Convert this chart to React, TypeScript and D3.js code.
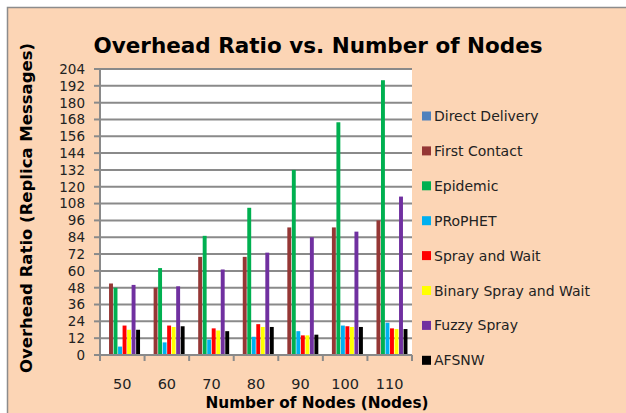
import React, { useEffect, useRef } from 'react';
import * as d3 from 'd3';

const nodes = ['50', '60', '70', '80', '90', '100', '110'];
const seriesNames = ['Direct Delivery', 'First Contact', 'Epidemic', 'PRoPHET', 'Spray and Wait', 'Binary Spray and Wait', 'Fuzzy Spray', 'AFSNW'];
const colors = ['#4F81BD', '#953735', '#00B050', '#00B0F0', '#FF0000', '#FFFF00', '#7030A0', '#000000'];

const directDelivery = [0, 0, 0, 0, 0, 0, 0];
const firstContact = [51, 48, 70, 70, 91, 91, 96];
const epidemic = [48, 62, 85, 105, 132, 166, 196];
const prophet = [6, 9, 11, 13, 17, 21, 23];
const sprayAndWait = [21, 21, 19, 22, 14, 20.5, 19];
const binarySprayAndWait = [18, 20, 17.5, 20, 14, 20, 18.5];
const fuzzySpray = [50, 49, 61, 73, 84, 88, 113];
const afsnw = [18, 20.5, 17, 20, 14.5, 20, 18.5];

const yTicks = d3.range(0, 205, 12);

const App = () => {
    const svgRef = useRef(null);

    useEffect(() => {
        const svg = d3.select(svgRef.current);
        svg.selectAll('*').remove();

        const width = 626;
        const height = 413;
        const font = '"DejaVu Sans", sans-serif';
        const plot = { left: 100, top: 69, right: 412, bottom: 355 };

        const allSeries = [directDelivery, firstContact, epidemic, prophet, sprayAndWait, binarySprayAndWait, fuzzySpray, afsnw];

        // Background + frame
        svg.append('rect').attr('width', width).attr('height', height).attr('fill', 'white');
        svg.append('rect')
            .attr('x', 7.5).attr('y', 7.5)
            .attr('width', width).attr('height', height)
            .attr('fill', '#FCD5B5')
            .attr('stroke', '#8c8c8c').attr('stroke-width', 1.5);

        // Scales
        const x0 = d3.scaleBand()
            .domain(nodes)
            .range([plot.left, plot.right])
            .paddingInner(0.19)
            .paddingOuter(0.095);
        const x1 = d3.scaleBand()
            .domain(seriesNames)
            .range([0, x0.bandwidth()]);
        const y = d3.scaleLinear().domain([0, 204]).range([plot.bottom, plot.top]);

        svg.append('rect')
            .attr('x', plot.left).attr('y', plot.top)
            .attr('width', plot.right - plot.left).attr('height', plot.bottom - plot.top)
            .attr('fill', 'white');

        // Gridlines
        svg.append('g').selectAll('line')
            .data(yTicks.filter(d => d > 0))
            .enter().append('line')
            .attr('x1', plot.left).attr('x2', plot.right)
            .attr('y1', d => y(d)).attr('y2', d => y(d))
            .attr('stroke', '#8a8a8a').attr('stroke-width', 2);

        // Bars
        const groups = svg.append('g').selectAll('g')
            .data(nodes)
            .enter().append('g')
            .attr('transform', d => `translate(${x0(d)},0)`);

        groups.selectAll('rect')
            .data((d, i) => seriesNames.map((s, j) => ({ s, v: allSeries[j][i], c: colors[j] })))
            .enter().append('rect')
            .attr('x', d => x1(d.s) + 0.3)
            .attr('width', x1.bandwidth() - 0.6)
            .attr('y', d => y(d.v))
            .attr('height', d => plot.bottom - y(d.v))
            .attr('fill', d => d.c);

        // Axes lines
        const axisColor = '#8a8a8a';
        svg.append('line')
            .attr('x1', plot.left).attr('x2', plot.left)
            .attr('y1', plot.top).attr('y2', plot.bottom)
            .attr('stroke', axisColor).attr('stroke-width', 2);
        svg.append('line')
            .attr('x1', plot.left - 6).attr('x2', plot.right)
            .attr('y1', plot.bottom).attr('y2', plot.bottom)
            .attr('stroke', axisColor).attr('stroke-width', 2);

        // Y ticks
        svg.append('g').selectAll('line')
            .data(yTicks)
            .enter().append('line')
            .attr('x1', plot.left - 6).attr('x2', plot.left)
            .attr('y1', d => y(d)).attr('y2', d => y(d))
            .attr('stroke', axisColor).attr('stroke-width', 2);
        svg.append('g').selectAll('text')
            .data(yTicks)
            .enter().append('text')
            .attr('x', 85).attr('y', d => y(d))
            .attr('dy', '0.36em')
            .attr('text-anchor', 'end')
            .style('font-family', font).style('font-size', '13.5px').style('fill', '#222')
            .text(d => d);

        // X ticks (group boundaries)
        const step = (plot.right - plot.left) / nodes.length;
        svg.append('g').selectAll('line')
            .data(d3.range(nodes.length + 1))
            .enter().append('line')
            .attr('x1', d => plot.left + d * step).attr('x2', d => plot.left + d * step)
            .attr('y1', plot.bottom).attr('y2', plot.bottom + 6)
            .attr('stroke', axisColor).attr('stroke-width', 2);
        svg.append('g').selectAll('text')
            .data(nodes)
            .enter().append('text')
            .attr('x', d => x0(d) + x0.bandwidth() / 2)
            .attr('y', 389)
            .attr('text-anchor', 'middle')
            .style('font-family', font).style('font-size', '14.5px').style('fill', '#222')
            .text(d => d);

        // Title
        svg.append('text')
            .attr('x', 318).attr('y', 53)
            .attr('text-anchor', 'middle')
            .style('font-family', font).style('font-size', '21.5px').style('font-weight', 'bold')
            .text('Overhead Ratio vs. Number of Nodes');

        // Axis titles
        svg.append('text')
            .attr('x', 317).attr('y', 408)
            .attr('text-anchor', 'middle')
            .style('font-family', font).style('font-size', '15.3px').style('font-weight', 'bold')
            .text('Number of Nodes (Nodes)');
        svg.append('text')
            .attr('transform', 'translate(32,208) rotate(-90)')
            .attr('text-anchor', 'middle')
            .style('font-family', font).style('font-size', '16.5px').style('font-weight', 'bold')
            .text('Overhead Ratio (Replica Messages)');

        // Legend
        const legend = svg.append('g').selectAll('g')
            .data(seriesNames)
            .enter().append('g')
            .attr('transform', (d, i) => `translate(422,${116 + i * 34.9})`);
        legend.append('rect')
            .attr('x', 0).attr('y', -4.5)
            .attr('width', 9).attr('height', 9)
            .attr('fill', (d, i) => colors[i]);
        legend.append('text')
            .attr('x', 12).attr('y', 0).attr('dy', '0.36em')
            .style('font-family', font).style('font-size', '14px').style('fill', '#222')
            .text(d => d);
    }, []);

    return (
        <svg ref={svgRef} width={626} height={413} style={{ position: 'absolute', left: 0, top: 0 }}></svg>
    );
};

export default App;
